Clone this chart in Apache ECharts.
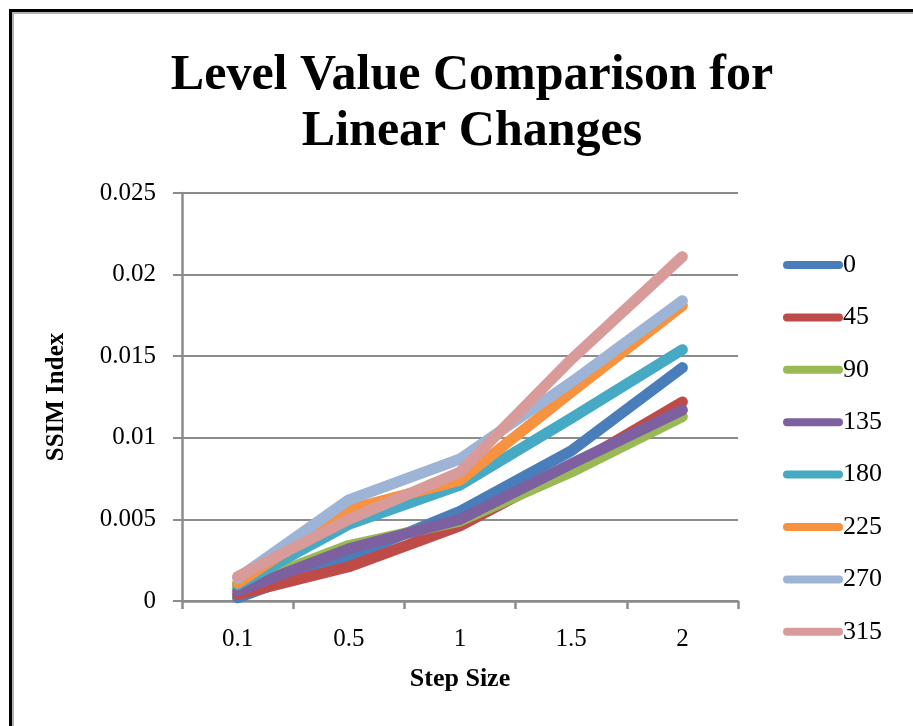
<!DOCTYPE html>
<html>
<head>
<meta charset="utf-8">
<script src="https://cdn.jsdelivr.net/npm/echarts@6/dist/echarts.min.js"></script>
<style>
  html, body { margin: 0; padding: 0; background: #ffffff; }
  #chart { width: 913px; height: 726px; }
</style>
</head>
<body>
<div id="chart"></div>
<script>
// Step sizes along the x axis
const stepSizes = ['0.1', '0.5', '1', '1.5', '2'];

// SSIM index per rotation angle (degrees)
const angles = ['0', '45', '90', '135', '180', '225', '270', '315'];
const s0   = [0.0002, 0.0027, 0.0055, 0.0092, 0.0143];
const s45  = [0.0004, 0.0021, 0.0046, 0.0082, 0.0122];
const s90  = [0.0008, 0.0034, 0.0049, 0.0079, 0.0113];
const s135 = [0.0006, 0.0032, 0.0050, 0.0084, 0.0117];
const s180 = [0.0010, 0.0047, 0.0071, 0.0112, 0.0154];
const s225 = [0.0011, 0.0056, 0.0074, 0.0128, 0.0181];
const s270 = [0.0014, 0.0062, 0.0087, 0.0134, 0.0184];
const s315 = [0.0015, 0.0050, 0.0079, 0.0148, 0.0211];
const seriesValues = [s0, s45, s90, s135, s180, s225, s270, s315];

// Y axis tick labels
const yTickLabels = ['0', '0.005', '0.01', '0.015', '0.02', '0.025'];

const palette = ['#4a7ebb', '#be4b48', '#98b954', '#7d60a0', '#46aac5', '#f69240', '#9db4d6', '#d99a9a'];

const serifFont = '"Liberation Serif", "DejaVu Serif", serif';
const gridGray = '#8c8c8c';

const chart = echarts.init(document.getElementById('chart'), null, { renderer: 'canvas' });

const option = {
  backgroundColor: '#ffffff',
  color: palette,
  animation: false,
  title: {
    text: 'Level Value Comparison for\nLinear Changes',
    left: 467,
    top: 43,
    textAlign: 'center',
    textStyle: {
      fontFamily: serifFont,
      fontWeight: 'bold',
      fontSize: 50,
      lineHeight: 56,
      color: '#000000'
    }
  },
  legend: {
    orient: 'vertical',
    left: 778,
    top: 245,
    itemWidth: 60,
    itemHeight: 9,
    itemGap: 22.4,
    icon: 'path://M4,0 L56,0 A4,4 0 0 1 56,8 L4,8 A4,4 0 0 1 4,0 Z',
    textStyle: {
      fontFamily: serifFont,
      fontSize: 26,
      lineHeight: 30,
      color: '#000000',
      padding: [0, 0, 0, -5]
    },
    data: angles
  },
  grid: {
    left: 182,
    right: 175,
    top: 193,
    bottom: 125
  },
  xAxis: {
    type: 'category',
    data: stepSizes,
    boundaryGap: true,
    name: 'Step Size',
    nameLocation: 'middle',
    nameGap: 65,
    nameTextStyle: {
      fontFamily: serifFont,
      fontWeight: 'bold',
      fontSize: 26,
      color: '#000000'
    },
    axisLine: { show: true, lineStyle: { color: gridGray, width: 2.5 } },
    axisTick: { show: true, alignWithLabel: false, length: 8, lineStyle: { color: gridGray, width: 2.5 } },
    axisLabel: {
      margin: 26,
      fontFamily: serifFont,
      fontSize: 25,
      color: '#000000'
    },
    splitLine: { show: false }
  },
  yAxis: {
    type: 'value',
    min: 0,
    max: 0.025,
    interval: 0.005,
    name: 'SSIM Index',
    nameLocation: 'middle',
    nameGap: 113,
    nameTextStyle: {
      fontFamily: serifFont,
      fontWeight: 'bold',
      fontSize: 25,
      color: '#000000'
    },
    axisLine: { show: true, lineStyle: { color: gridGray, width: 2.5 } },
    axisTick: { show: true, length: 9, lineStyle: { color: gridGray, width: 2 } },
    axisLabel: {
      margin: 26,
      fontFamily: serifFont,
      fontSize: 25,
      color: '#000000',
      formatter: function (value, index) {
        return yTickLabels[index];
      }
    },
    splitLine: { show: true, lineStyle: { color: gridGray, width: 2 } }
  },
  series: angles.map(function (name, i) {
    return {
      name: name,
      type: 'line',
      data: seriesValues[i],
      showSymbol: false,
      symbol: 'none',
      lineStyle: { width: 11, cap: 'round', join: 'round', color: palette[i] },
      itemStyle: { color: palette[i] }
    };
  }),
  graphic: [
    {
      type: 'polyline',
      shape: { points: [[10.5, 726], [10.5, 10.5], [913, 10.5]] },
      style: { stroke: '#000000', lineWidth: 3, fill: null },
      z: 100
    },
    {
      type: 'polyline',
      shape: { points: [[13, 726], [13, 13], [913, 13]] },
      style: { stroke: '#b0b0b0', lineWidth: 2, fill: null },
      z: 100
    }
  ]
};

chart.setOption(option);
</script>
</body>
</html>
